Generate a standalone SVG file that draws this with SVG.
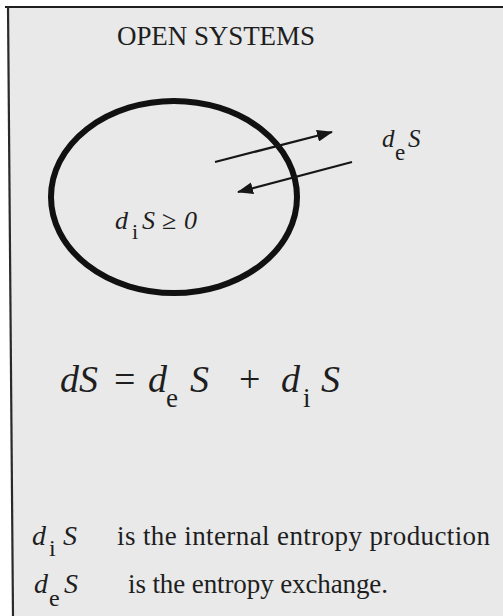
<svg xmlns="http://www.w3.org/2000/svg" width="503" height="616" viewBox="0 0 503 616">
<defs>
<style>
.t{font-family:"Liberation Serif","Times New Roman",serif;fill:#1e1e1e}
.i{font-style:italic}
.conn{stroke:#161616;stroke-width:2.2;fill:none}
</style>
<marker id="ah" markerUnits="userSpaceOnUse" markerWidth="16" markerHeight="12" refX="15" refY="6" orient="auto">
<path d="M0,0 L16,6 L0,12 Z" fill="#161616"/>
</marker>
</defs>
<rect width="503" height="616" fill="#ffffff"/>
<polygon points="8,7 503,7 503,616 13,616" fill="#e9e9e9"/>
<line x1="5" y1="7" x2="503" y2="7" stroke="#1e1e1e" stroke-width="2.2"/>
<line x1="8" y1="6" x2="13" y2="616" stroke="#2a2a2a" stroke-width="2.2"/>
<g id="title"><text class="t" x="117" y="45" font-size="27" textLength="198">OPEN SYSTEMS</text></g>
<g id="system">
<ellipse cx="174" cy="197" rx="123" ry="96" fill="none" stroke="#111" stroke-width="6"/>
<text class="t" font-size="26" y="229"><tspan class="i" x="115">d</tspan><tspan x="132" y="239" font-size="22">i</tspan><tspan class="i" x="142" y="229">S</tspan><tspan x="162">≥</tspan><tspan class="i" x="184">0</tspan></text>
</g>
<g id="connectors">
<line class="conn" x1="215" y1="162" x2="332" y2="132" marker-end="url(#ah)"/>
<line class="conn" x1="352" y1="162" x2="238" y2="192" marker-end="url(#ah)"/>
</g>
<g id="exchange-label">
<text class="t" font-size="25" y="147"><tspan class="i" x="382">d</tspan><tspan x="395" y="160" font-size="23">e</tspan><tspan class="i" x="408" y="147">S</tspan></text>
</g>
<g id="equation">
<text class="t" font-size="38" y="392"><tspan class="i" x="60">d</tspan><tspan class="i" x="79">S</tspan><tspan x="114">=</tspan><tspan class="i" x="148">d</tspan><tspan x="166" y="407" font-size="27">e</tspan><tspan class="i" x="190" y="392">S</tspan><tspan x="239">+</tspan><tspan class="i" x="281">d</tspan><tspan x="303" y="407" font-size="27">i</tspan><tspan class="i" x="321" y="392">S</tspan></text>
</g>
<g id="legend">
<text class="t" font-size="28" y="545"><tspan class="i" x="32">d</tspan><tspan x="49" y="556" font-size="24">i</tspan><tspan class="i" x="63" y="545">S</tspan></text>
<text class="t" font-size="27" x="117" y="545" textLength="373">is the internal entropy production</text>
<text class="t" font-size="28" y="593"><tspan class="i" x="34">d</tspan><tspan x="49" y="606" font-size="24">e</tspan><tspan class="i" x="64" y="593">S</tspan></text>
<text class="t" font-size="27" x="128" y="593" textLength="260">is the entropy exchange.</text>
</g>
</svg>
